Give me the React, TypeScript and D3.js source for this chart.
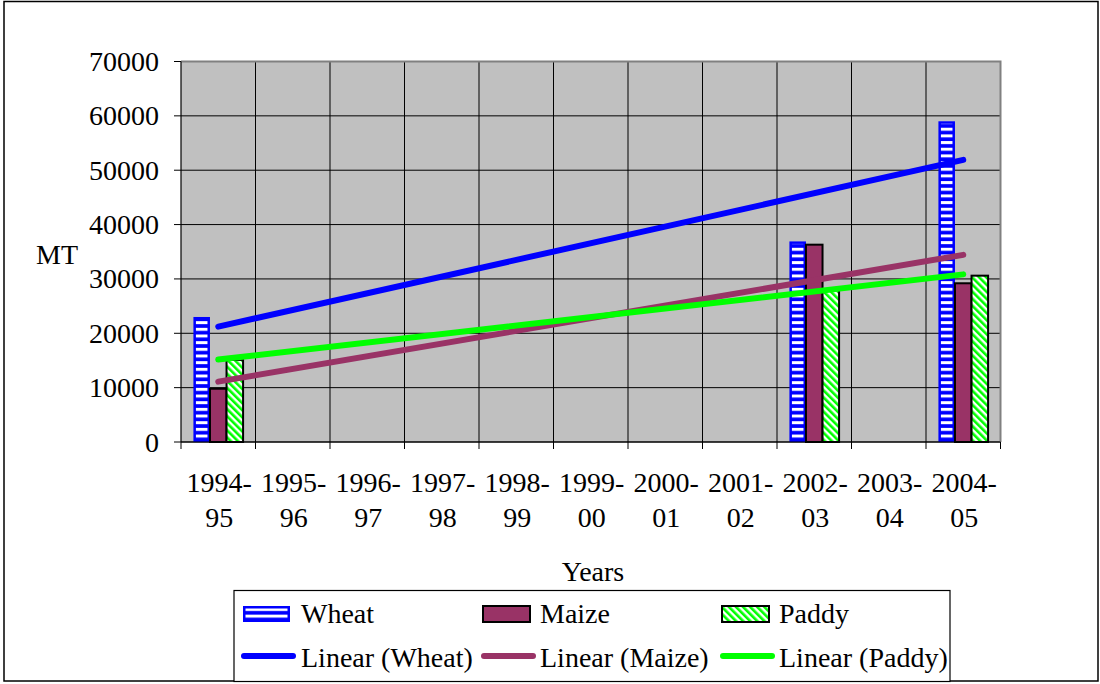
import React from "react";
import * as d3 from "d3";

// Crop output by year, metric tonnes
const years = ["1994-95", "1995-96", "1996-97", "1997-98", "1998-99", "1999-00", "2000-01", "2001-02", "2002-03", "2003-04", "2004-05"];
const wheat: (number | null)[] = [23000, null, null, null, null, null, null, null, 36900, null, 59000];
const maize: (number | null)[] = [9800, null, null, null, null, null, null, null, 36300, null, 29200];
const paddy: (number | null)[] = [15100, null, null, null, null, null, null, null, 28000, null, 30600];
const yTicks = [0, 10000, 20000, 30000, 40000, 50000, 60000, 70000];

const seriesNames = ["Wheat", "Maize", "Paddy"];
const seriesData = [wheat, maize, paddy];
const lineColors = ["#0000FF", "#993366", "#00FF00"];

const W = 1100;
const H = 684;
const plot = { left: 181, right: 1000.5, top: 61.5, bottom: 442 };
const FONT = "'Liberation Serif', 'DejaVu Serif', serif";
const textStyle: React.CSSProperties = { fontFamily: FONT, fontSize: 28, letterSpacing: 0 };

// least-squares fit against category position (1-based)
function linearFit(values: (number | null)[]) {
  const pts = values
    .map((v, i) => (v == null ? null : [i + 1, v]))
    .filter((p): p is number[] => p !== null);
  const mx = d3.mean(pts, (p) => p[0])!;
  const my = d3.mean(pts, (p) => p[1])!;
  const sxy = d3.sum(pts, (p) => (p[0] - mx) * (p[1] - my));
  const sxx = d3.sum(pts, (p) => (p[0] - mx) ** 2);
  const slope = sxy / sxx;
  return (x: number) => my + slope * (x - mx);
}

export default function App() {
  const x = d3.scaleBand<string>().domain(years).range([plot.left, plot.right]).paddingInner(0).paddingOuter(0);
  const cw = x.bandwidth();
  const inner = d3.scaleBand<string>().domain(seriesNames).range([0, cw]).paddingInner(0).paddingOuter(0.75);
  const y = d3.scaleLinear().domain([0, 70000]).range([plot.bottom, plot.top]);

  const fills = ["url(#wheatStripes)", "#993366", "url(#paddyHatch)"];

  const renderBar = (si: number, bx: number, by: number, bw: number, bh: number, key: string) => {
    if (si === 0) {
      return (
        <g key={key}>
          <rect x={bx} y={by} width={bw} height={bh} fill="#0000FF" />
          <rect x={bx + 2.5} y={by + 2.5} width={Math.max(0, bw - 5)} height={Math.max(0, bh - 5)} fill="url(#wheatStripes)" />
        </g>
      );
    }
    return <rect key={key} x={bx} y={by} width={bw} height={bh} fill={fills[si]} stroke="#000" strokeWidth={2} />;
  };

  const trendX0 = x(years[0])! + cw / 2;
  const trendX1 = x(years[years.length - 1])! + cw / 2;

  const legendCols = [243, 483, 722];
  const legendTextX = [301, 540, 779];

  return (
    <svg width={W} height={H} style={{ position: "absolute", left: 0, top: 0, background: "#fff" }}>
      <defs>
        <pattern id="wheatStripes" patternUnits="userSpaceOnUse" width={10} height={6.67} y={1}>
          <rect width={10} height={6.67} fill="#0000FF" />
          <rect y={0} width={10} height={3} fill="#FFFFFF" />
        </pattern>
        <pattern id="paddyHatch" patternUnits="userSpaceOnUse" width={5} height={5} patternTransform="rotate(-45)">
          <rect width={5} height={5} fill="#FFFFFF" />
          <rect width={2.6} height={5} fill="#00FF00" />
        </pattern>
      </defs>

      {/* chart frame */}
      <rect x={4} y={1.5} width={1094} height={679.5} fill="#fff" stroke="#000" strokeWidth={1.5} />

      {/* plot area */}
      <rect x={plot.left} y={plot.top} width={plot.right - plot.left} height={plot.bottom - plot.top} fill="#C0C0C0" />
      {yTicks.map((t) => (
        <line key={`gy${t}`} x1={plot.left} x2={plot.right} y1={y(t)} y2={y(t)} stroke="#000" strokeWidth={1} />
      ))}
      {years.slice(1).map((yr) => (
        <line key={`gx${yr}`} x1={x(yr)!} x2={x(yr)!} y1={plot.top} y2={plot.bottom} stroke="#000" strokeWidth={1} />
      ))}
      <path
        d={`M${plot.left},${plot.top}H${plot.right}V${plot.bottom}`}
        fill="none"
        stroke="#808080"
        strokeWidth={2}
      />

      {/* bars */}
      {years.map((yr, i) =>
        seriesData.map((s, si) => {
          const v = s[i];
          if (v == null) return null;
          const bx = x(yr)! + inner(seriesNames[si])!;
          return renderBar(si, bx, y(v), inner.bandwidth(), y(0) - y(v), `b${i}-${si}`);
        })
      )}

      {/* linear trend lines */}
      {seriesData.map((s, si) => {
        const f = linearFit(s);
        return (
          <line
            key={`t${si}`}
            x1={trendX0}
            x2={trendX1}
            y1={y(f(1))}
            y2={y(f(years.length))}
            stroke={lineColors[si]}
            strokeWidth={6}
            strokeLinecap="round"
          />
        );
      })}

      {/* axes */}
      <line x1={plot.left} x2={plot.left} y1={plot.top} y2={plot.bottom} stroke="#000" strokeWidth={1.2} />
      <line x1={plot.left} x2={plot.right} y1={plot.bottom} y2={plot.bottom} stroke="#000" strokeWidth={1.2} />
      {yTicks.map((t) => (
        <g key={`yt${t}`}>
          <line x1={plot.left - 7} x2={plot.left} y1={y(t)} y2={y(t)} stroke="#000" strokeWidth={1} />
          <text x={159} y={y(t)} dy="0.34em" textAnchor="end" style={textStyle}>
            {t}
          </text>
        </g>
      ))}
      {years.map((yr, i) => (
        <line key={`xt${i}`} x1={x(yr)!} x2={x(yr)!} y1={plot.bottom} y2={plot.bottom + 7} stroke="#000" strokeWidth={1} />
      ))}
      <line x1={plot.right} x2={plot.right} y1={plot.bottom} y2={plot.bottom + 7} stroke="#000" strokeWidth={1} />
      {years.map((yr) => {
        const [a, b] = yr.split("-");
        const cx = x(yr)! + cw / 2 + 1;
        return (
          <text key={`xl${yr}`} x={cx} textAnchor="middle" style={textStyle}>
            <tspan x={cx} y={492}>{a}-</tspan>
            <tspan x={cx} y={527}>{b}</tspan>
          </text>
        );
      })}

      {/* axis titles */}
      <text x={36} y={264} style={textStyle}>MT</text>
      <text x={593} y={581} textAnchor="middle" style={textStyle}>Years</text>

      {/* legend */}
      <rect x={234} y={590.5} width={716} height={91} fill="#fff" stroke="#000" strokeWidth={1.2} />
      {seriesNames.map((name, si) => (
        <g key={`lg${si}`}>
          {renderBar(si, legendCols[si], 606, 47, 16, `lgb${si}`)}
          <text x={legendTextX[si]} y={623} style={textStyle}>{name}</text>
          <line
            x1={legendCols[si] + 1}
            x2={legendCols[si] + 50}
            y1={656}
            y2={656}
            stroke={lineColors[si]}
            strokeWidth={6}
            strokeLinecap="round"
          />
          <text x={legendTextX[si]} y={667} style={textStyle}>{`Linear (${name})`}</text>
        </g>
      ))}
    </svg>
  );
}
